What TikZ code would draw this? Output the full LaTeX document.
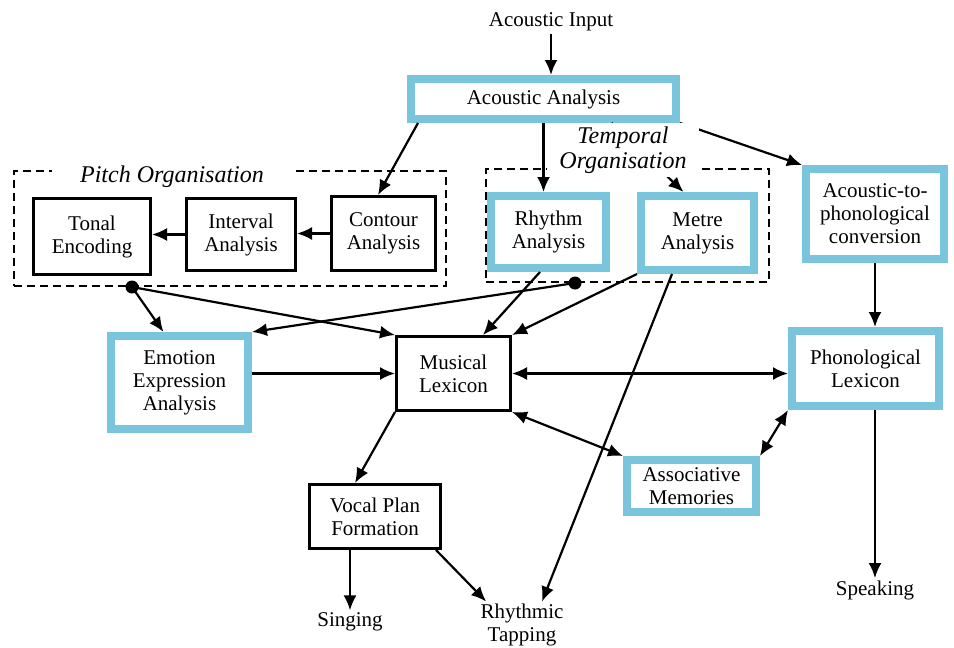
\documentclass[tikz,border=0pt]{standalone}
\usepackage{fontspec}
\setmainfont{Liberation Serif}
\usetikzlibrary{arrows.meta,positioning}
\definecolor{frameblue}{RGB}{122,196,220}

\begin{document}
\begin{tikzpicture}[x=0.5pt,y=-0.5pt,
    box/.style={draw,line width=1.3pt,align=center,inner sep=0pt,font=\fontsize{10.5}{11.5}\selectfont},
    bluebox/.style={draw=frameblue,line width=4pt,align=center,inner sep=0pt,font=\fontsize{10.5}{11.5}\selectfont},
    group/.style={draw,line width=1pt,dash pattern=on 4pt off 2.5pt,inner sep=0pt},
    grouplabel/.style={fill=white,inner ysep=2pt,align=center,font=\itshape\fontsize{12}{12.5}\selectfont},
    lbl/.style={align=center,inner sep=1pt,font=\fontsize{10.5}{11.5}\selectfont},
    arr/.style={line width=1.1pt,-{Latex[length=7.5pt,width=6.5pt]}},
    dblarr/.style={line width=1.1pt,{Latex[length=7.5pt,width=6.5pt]}-{Latex[length=7.5pt,width=6.5pt]}},
    dot/.style={circle,fill,inner sep=0pt,minimum size=6.5pt}]
  \useasboundingbox (0,0) rectangle (954,648);

  % groups
  \node[group,minimum width=216pt,minimum height=57.5pt] (pitchgrp) at (230,228.5) {};
  \node[group,minimum width=141.5pt,minimum height=56.5pt] (tempgrp) at (627.5,225.5) {};

  % top
  \node[lbl] (input) at (551,22) {Acoustic Input};
  \node[bluebox,minimum width=132.5pt,minimum height=20pt] (acoustic) at (543.5,99) {Acoustic Analysis};

  % pitch organisation
  \node[box,minimum width=58.7pt,minimum height=38.2pt] (tonal) at (92,236.5) {Tonal\\Encoding};
  \node[box,minimum width=54.7pt,minimum height=36.2pt] (interval) at (241,234.5) {Interval\\Analysis};
  \node[box,minimum width=52.2pt,minimum height=37.2pt] (contour) at (383.5,233.5) {Contour\\Analysis};

  % temporal organisation
  \node[bluebox,minimum width=57.5pt,minimum height=36pt] (rhythm) at (548.5,232) {Rhythm\\Analysis};
  \node[bluebox,minimum width=56.5pt,minimum height=37pt] (metre) at (697.5,233) {Metre\\Analysis};

  \node[bluebox,minimum width=69pt,minimum height=45pt] (a2p) at (875,214) {Acoustic-to-\\phonological\\conversion};
  \node[bluebox,minimum width=73.5pt,minimum height=37.5pt] (phon) at (865.5,368.5) {Phonological\\Lexicon};
  \node[bluebox,minimum width=68.5pt,minimum height=46.5pt] (emotion) at (179.5,382.5) {Emotion\\Expression\\Analysis};
  \node[box,minimum width=57.2pt,minimum height=37.2pt] (musical) at (453.5,373.5) {Musical\\Lexicon};
  \node[bluebox,minimum width=64.5pt,minimum height=26pt] (assoc) at (691.5,486) {Associative\\Memories};
  \node[box,minimum width=65.7pt,minimum height=32.2pt] (vocal) at (375,516.5) {Vocal Plan\\Formation};

  % outputs
  \node[lbl] (singing) at (350,622) {Singing};
  \node[lbl] (tapping) at (522,625) {Rhythmic\\Tapping};
  \node[lbl] (speaking) at (875,590) {Speaking};

  \node[dot] (pdot) at (132,287) {};
  \node[dot] (tdot) at (575,283) {};

  % connections
  \draw[arr] (input.south) -- (input.south |- acoustic.north);
  \draw[arr] ([xshift=5.5pt]acoustic.south west) -- ([xshift=-2.75pt]contour.north);
  \draw[arr] (acoustic.south) -- (acoustic.south |- rhythm.north);
  \draw[arr] ([xshift=34pt]acoustic.south) -- ([xshift=-7pt]metre.north);
  \draw[arr] (acoustic.south east) -- (a2p.north west);
  \draw[arr] (contour.west) -- (contour.west -| interval.east);
  \draw[arr] (interval.west) -- (interval.west -| tonal.east);
  \draw[arr] (a2p.south) -- (a2p.south |- phon.north);
  \draw[arr] (phon.south -| speaking) -- (speaking.north);
  \draw[arr] (pdot.center) -- ([xshift=-8pt]emotion.north);
  \draw[arr] (pdot.center) -- (musical.north west);
  \draw[arr] (tdot.center) -- (emotion.north east);
  \draw[arr] ([xshift=-4.25pt]rhythm.south) -- ([xshift=14.75pt]musical.north);
  \draw[arr] (metre.south west) -- (musical.north east);
  \draw[arr] (emotion.east |- musical.west) -- (musical.west);
  \draw[dblarr] (musical.east) -- (musical.east -| phon.west);
  \draw[dblarr] (musical.south east) -- (assoc.north west);
  \draw[dblarr] (assoc.north east) -- (phon.south west);
  \draw[arr] (musical.south west) -- ([xshift=-10pt]vocal.north);
  \draw[arr] (singing |- vocal.south) -- (singing.north);
  \draw[arr] ([xshift=-3pt]vocal.south east) -- ([xshift=4pt]tapping.north west);
  \draw[arr] ([xshift=-12.75pt]metre.south) -- ([xshift=10pt]tapping.north);

  % group labels
  \node[grouplabel,inner xsep=14pt] (pitchlbl) at (172,177) {Pitch Organisation};
  \node[grouplabel,inner xsep=6pt] (templbl) at (623,150) {Temporal\\Organisation};
\end{tikzpicture}
\end{document}
